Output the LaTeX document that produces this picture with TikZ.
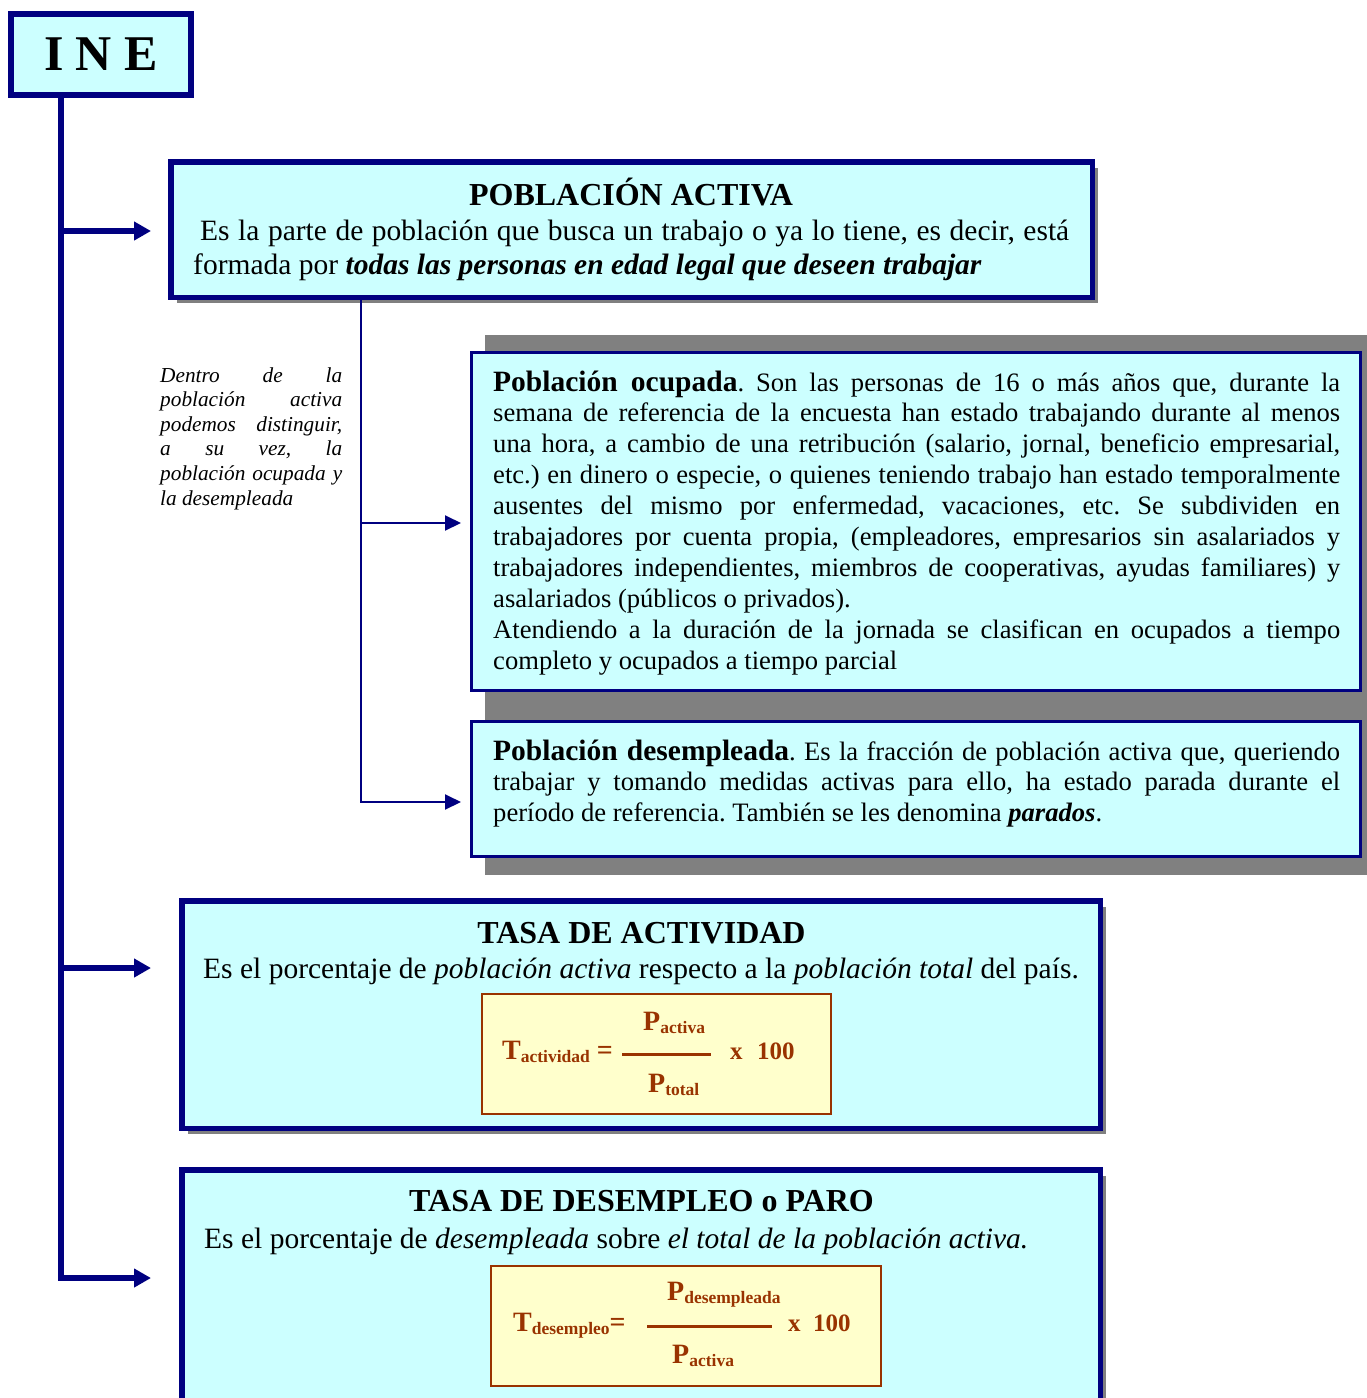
\documentclass[tikz,border=0pt]{standalone}
\usepackage{fontspec}
\setmainfont{Liberation Serif}
\usetikzlibrary{arrows.meta,shadows}
\definecolor{navy}{HTML}{000080}
\definecolor{boxcyan}{HTML}{CCFFFF}
\definecolor{shgray}{HTML}{808080}
\definecolor{fbrown}{HTML}{993300}
\definecolor{fyellow}{HTML}{FFFFCC}
\newcommand\jline[2][847pt]{{\spaceskip=0pt\xspaceskip=0pt\makebox[#1][s]{#2}}}
\newcommand\fsub[1]{\raisebox{-3pt}{\fontsize{17.5}{20}\selectfont #1}}
\newcommand\lead[1]{{\fontsize{29.5}{30.9}\selectfont\bfseries #1}}
\frenchspacing
\begin{document}
\begin{tikzpicture}[x=1pt,y=-1pt,
  box/.style={draw=navy, fill=boxcyan, inner sep=0pt, rectangle},
  shbox/.style={box, drop shadow={shadow xshift=6pt, shadow yshift=-6pt, fill=shgray, opacity=1}},
  fbox/.style={draw=fbrown, fill=fyellow, line width=2pt, inner sep=0pt},
  txt/.style={inner sep=0pt, anchor=base west},
  ftxt/.style={txt, text=fbrown, font=\fontsize{28}{30}\selectfont\bfseries},
  fnum/.style={txt, text=fbrown, font=\fontsize{25}{28}\selectfont\bfseries},
  fline/.style={draw=fbrown, line width=3pt},
  bigarrow/.style={draw=navy, line width=5.5pt, -{Triangle[length=17pt,width=18pt]}},
  thinarrow/.style={draw=navy, line width=2pt, -{Triangle[length=16pt,width=15pt]}},
  titlef/.style={inner sep=0pt, anchor=base, font=\fontsize{32}{36}\selectfont\bfseries},
  bodyf/.style={txt, font=\fontsize{29.5}{34}\selectfont},
  parf/.style={txt, text width=847pt, align=justify, font=\fontsize{26.6}{30.9}\selectfont}
]
\useasboundingbox (0,0) rectangle (1367,1398);

% grey backdrop behind the two sub-boxes
\fill[shgray] (485,335) rectangle (1367,875);

% boxes
\node[box, line width=6pt, minimum width=180pt, minimum height=81pt,
      font=\fontsize{50}{50}\selectfont\bfseries] (ine) at (101,54.5) {I N E};
\node[shbox, line width=5.5pt, minimum width=921.5pt, minimum height=135.5pt] (act) at (631.5,229.5) {};
\node[box, line width=3pt, minimum width=889pt, minimum height=338pt] (ocup) at (916,521.5) {};
\node[box, line width=3pt, minimum width=889pt, minimum height=135pt] (desemp) at (916,789) {};
\node[shbox, line width=5.5pt, minimum width=918.5pt, minimum height=227.5pt] (tasaact) at (641,1014.5) {};
\node[shbox, line width=5.5pt, minimum width=918.5pt, minimum height=257.5pt] (tasades) at (641,1298.5) {};
\node[fbox, minimum width=349pt, minimum height=120pt] (form1) at (656.5,1054) {};
\node[fbox, minimum width=390pt, minimum height=120.5pt] (form2) at (686,1326) {};

% connectors
\coordinate (j1) at (61,231);
\coordinate (j2) at (61,968);
\coordinate (j3) at (61,1278);
\draw[bigarrow, shorten >=28pt] (ine.south -| j1) -- (j3) -- (j3 -| tasades.west);
\draw[bigarrow, shorten >=17pt] (j1) -- (j1 -| act.west);
\draw[bigarrow, shorten >=28pt] (j2) -- (j2 -| tasaact.west);

\coordinate (k1) at (361,523);
\coordinate (k2) at (361,802);
\draw[thinarrow, shorten >=9pt] (act.south -| k1) -- (k2) -- (k2 -| desemp.west);
\draw[thinarrow, shorten >=9pt] (k1) -- (k1 -| ocup.west);

% texts: poblacion activa
\node[titlef] (acttitle) at (631,205) {POBLACIÓN ACTIVA};
\node[bodyf] (act1) at (200,240) {\jline[869pt]{Es la parte de población que busca un trabajo o ya lo tiene, es decir, está}};
\node[bodyf] (act2) at (193,274) {formada por \textbf{\textit{todas las personas en edad legal que deseen trabajar}}};

% side note
\node[txt, text width=182pt, align=justify, font=\fontsize{21.3}{24.6}\selectfont\itshape] (side) at (160,382)
 {\jline[182pt]{Dentro de la}\\
  \jline[182pt]{población activa}\\
  \jline[182pt]{podemos distinguir,}\\
  \jline[182pt]{a su vez, la}\\
  \jline[182pt]{población ocupada y}\\
  la desempleada};

% ocupada
\node[parf] (ocuptxt) at (493,391)
 {\jline{\lead{Población ocupada}. Son las personas de 16 o más años que, durante la}\\
  \jline{semana de referencia de la encuesta han estado trabajando durante al menos}\\
  \jline{una hora, a cambio de una retribución (salario, jornal, beneficio empresarial,}\\
  \jline{etc.) en dinero o especie, o quienes teniendo trabajo han estado temporalmente}\\
  \jline{ausentes del mismo por enfermedad, vacaciones, etc. Se subdividen en}\\
  \jline{trabajadores por cuenta propia, (empleadores, empresarios sin asalariados y}\\
  \jline{trabajadores independientes, miembros de cooperativas, ayudas familiares) y}\\
  asalariados (públicos o privados).\\
  \jline{Atendiendo a la duración de la jornada se clasifican en ocupados a tiempo}\\
  completo y ocupados a tiempo parcial};

% desempleada
\node[parf] (desemptxt) at (493,760)
 {\jline{\lead{Población desempleada}. Es la fracción de población activa que, queriendo}\\
  \jline{trabajar y tomando medidas activas para ello, ha estado parada durante el}\\
  período de referencia. También se les denomina \textbf{\textit{parados}}.};

% tasa de actividad
\node[titlef] (tatitle) at (641.5,943) {TASA DE ACTIVIDAD};
\node[bodyf] (tabody) at (203,978) {Es el porcentaje de \textit{población activa} respecto a la \textit{población total} del país.};
\node[ftxt] (f1T) at (502,1059) {T\fsub{actividad} =};
\node[ftxt] (f1num) at (643,1030) {P\fsub{activa}};
\node[ftxt] (f1den) at (648,1092) {P\fsub{total}};
\draw[fline] (622,1054) -- (711,1054);
\node[fnum] (f1x) at (730,1059) {x};
\node[fnum] (f1c) at (757,1059) {100};

% tasa de desempleo
\node[titlef] (tdtitle) at (641.5,1211) {TASA DE DESEMPLEO o PARO};
\node[bodyf] (tdbody) at (204,1248) {Es el porcentaje de \textit{desempleada} sobre \textit{el total de la población activa.}};
\node[ftxt] (f2T) at (513,1331) {T\fsub{desempleo}=};
\node[ftxt] (f2num) at (667,1300) {P\fsub{desempleada}};
\node[ftxt] (f2den) at (672,1363) {P\fsub{activa}};
\draw[fline] (647,1326) -- (772,1326);
\node[fnum] (f2x) at (788,1331) {x};
\node[fnum] (f2c) at (813,1331) {100};
\end{tikzpicture}
\end{document}
